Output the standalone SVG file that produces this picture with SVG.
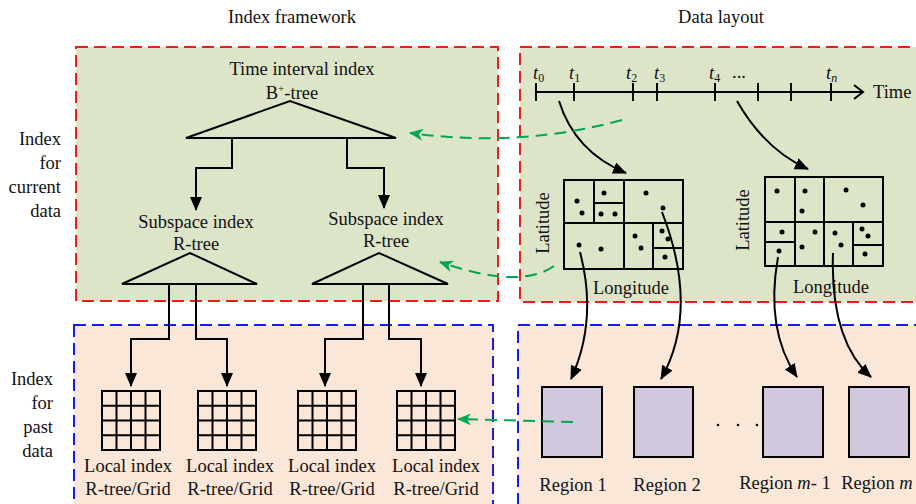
<svg xmlns="http://www.w3.org/2000/svg" width="916" height="504" viewBox="0 0 916 504">
<defs>
<style>
text{font-family:"Liberation Serif","Times New Roman",serif;font-size:18.5px;fill:#111}
.c{text-anchor:middle}
.r{text-anchor:end}
.ln{fill:none;stroke:#000;stroke-width:2}
.tri{fill:none;stroke:#000;stroke-width:2;stroke-linejoin:miter}
.grid{fill:none;stroke:#000;stroke-width:2}
.region{fill:#d1c8dd;stroke:#000;stroke-width:2}
.gd{fill:none;stroke:#00a651;stroke-width:2;stroke-dasharray:12 7}
.dot{fill:#000}
</style>
<marker id="ah" markerUnits="userSpaceOnUse" markerWidth="14" markerHeight="12" refX="13" refY="6" orient="auto">
<path d="M0,0 L14,6 L0,12 z" fill="#000"/>
</marker>
<marker id="gh" markerUnits="userSpaceOnUse" markerWidth="14" markerHeight="12" refX="13" refY="6" orient="auto">
<path d="M0,0 L14,6 L0,12 L4,6 z" fill="#00a651"/>
</marker>
<g id="lgrid">
<rect x="0" y="0" width="58" height="59" class="grid"/>
<path d="M14.5,0V59M29,0V59M43.5,0V59M0,14.75H58M0,29.5H58M0,44.25H58" class="grid"/>
</g>
</defs>
<rect width="916" height="504" fill="#fff"/>

<!-- panels -->
<g id="panels">
<rect x="76" y="47" width="422" height="254" fill="#dde5c9" stroke="#f01c1c" stroke-width="2" stroke-dasharray="12 6"/>
<rect x="520" y="47" width="402" height="255" fill="#dde5c9" stroke="#f01c1c" stroke-width="2" stroke-dasharray="12 6"/>
<rect x="74" y="325" width="419" height="190" fill="#fae7d8" stroke="#1a1aee" stroke-width="2" stroke-dasharray="12 6"/>
<rect x="518" y="325" width="404" height="190" fill="#fae7d8" stroke="#1a1aee" stroke-width="2" stroke-dasharray="12 6"/>
</g>

<g id="headers">
<text x="292" y="23" class="c">Index framework</text>
<text x="721" y="23" class="c">Data layout</text>
<text x="61" y="145" class="r">Index</text>
<text x="61" y="169" class="r">for</text>
<text x="61" y="193" class="r">current</text>
<text x="61" y="217" class="r">data</text>
<text x="53" y="385" class="r">Index</text>
<text x="53" y="409" class="r">for</text>
<text x="53" y="433" class="r">past</text>
<text x="53" y="457" class="r">data</text>
</g>

<g id="time-interval-index">
<text x="302" y="75" class="c">Time interval index</text>
<text x="292" y="99" class="c">B<tspan dy="-7" font-size="11">+</tspan><tspan dy="7">-tree</tspan></text>
<polygon points="186,138 290,101 396,138" class="tri"/>
</g>

<g id="subspace-index-1">
<text x="196" y="228" class="c">Subspace index</text>
<text x="196" y="250" class="c">R-tree</text>
<polygon points="122,284 190,253 257,284" class="tri"/>
</g>
<g id="subspace-index-2">
<text x="386" y="225" class="c">Subspace index</text>
<text x="386" y="247" class="c">R-tree</text>
<polygon points="312,284 379,253 448,284" class="tri"/>
</g>

<g id="local-index-1">
<use href="#lgrid" x="102" y="391"/>
<text x="128" y="472" class="c">Local index</text>
<text x="128" y="495" class="c">R-tree/Grid</text>
</g>
<g id="local-index-2">
<use href="#lgrid" x="198" y="391"/>
<text x="230" y="472" class="c">Local index</text>
<text x="230" y="495" class="c">R-tree/Grid</text>
</g>
<g id="local-index-3">
<use href="#lgrid" x="298" y="391"/>
<text x="332" y="472" class="c">Local index</text>
<text x="332" y="495" class="c">R-tree/Grid</text>
</g>
<g id="local-index-4">
<use href="#lgrid" x="397" y="391"/>
<text x="436" y="472" class="c">Local index</text>
<text x="436" y="495" class="c">R-tree/Grid</text>
</g>

<g id="timeline">
<path d="M536,92 H862" class="ln"/>
<path d="M854,85 L863,92 L854,99" class="ln"/>
<path d="M536,83V101M574,83V101M633,83V101M657,83V101M715,83V101M758,83V101M791,83V101M831,83V101" class="ln"/>
<text x="533" y="79" font-style="italic">t<tspan font-size="12" dy="3" font-style="normal">0</tspan></text>
<text x="569" y="79" font-style="italic">t<tspan font-size="12" dy="3" font-style="normal">1</tspan></text>
<text x="626" y="79" font-style="italic">t<tspan font-size="12" dy="3" font-style="normal">2</tspan></text>
<text x="654" y="79" font-style="italic">t<tspan font-size="12" dy="3" font-style="normal">3</tspan></text>
<text x="709" y="79" font-style="italic">t<tspan font-size="12" dy="3" font-style="normal">4</tspan></text>
<text x="739" y="78" class="c">...</text>
<text x="826" y="79" font-style="italic">t<tspan font-size="12" dy="3">n</tspan></text>
<text x="873" y="98">Time</text>
</g>

<g id="space-1">
<rect x="564" y="180" width="119" height="89" class="grid"/>
<path d="M564,223H683M594,180V223M624,180V269M594,203H624M653,223V269M653,248H683" class="grid"/>
<g class="dot">
<circle cx="577" cy="201" r="2.5"/><circle cx="582" cy="213" r="2.5"/><circle cx="604" cy="193" r="2.5"/>
<circle cx="601" cy="214" r="2.5"/><circle cx="615" cy="214" r="2.5"/><circle cx="646" cy="193" r="2.5"/>
<circle cx="663" cy="208" r="2.5"/><circle cx="579" cy="245" r="2.5"/><circle cx="601" cy="249" r="2.5"/>
<circle cx="635" cy="236" r="2.5"/><circle cx="641" cy="248" r="2.5"/><circle cx="662" cy="231" r="2.5"/>
<circle cx="668" cy="239" r="2.5"/><circle cx="665" cy="257" r="2.5"/>
</g>
<text transform="translate(549,223) rotate(-90)" class="c">Latitude</text>
<text x="631" y="294" class="c">Longitude</text>
</g>

<g id="space-2">
<rect x="765" y="177" width="118" height="89" class="grid"/>
<path d="M765,222H883M795,177V266M824,177V266M853,222V266M765,242H795M853,245H883" class="grid"/>
<g class="dot">
<circle cx="777" cy="191" r="2.5"/><circle cx="805" cy="191" r="2.5"/><circle cx="802" cy="211" r="2.5"/>
<circle cx="846" cy="190" r="2.5"/><circle cx="863" cy="205" r="2.5"/><circle cx="782" cy="232" r="2.5"/>
<circle cx="779" cy="251" r="2.5"/><circle cx="815" cy="232" r="2.5"/><circle cx="802" cy="247" r="2.5"/>
<circle cx="835" cy="233" r="2.5"/><circle cx="841" cy="245" r="2.5"/><circle cx="862" cy="229" r="2.5"/>
<circle cx="868" cy="236" r="2.5"/><circle cx="865" cy="254" r="2.5"/>
</g>
<text transform="translate(749,220) rotate(-90)" class="c">Latitude</text>
<text x="831" y="293" class="c">Longitude</text>
</g>

<g id="region-1">
<rect x="542" y="387" width="60" height="70" class="region"/>
<text x="573" y="491" class="c">Region 1</text>
</g>
<g id="region-2">
<rect x="634" y="387" width="59" height="70" class="region"/>
<text x="667" y="491" class="c">Region 2</text>
</g>
<g id="region-m-1">
<rect x="763" y="387" width="60" height="70" class="region"/>
<text x="785" y="489" class="c">Region <tspan font-style="italic">m</tspan>- 1</text>
</g>
<g id="region-m">
<rect x="849" y="387" width="60" height="70" class="region"/>
<text x="877" y="489" class="c">Region <tspan font-style="italic">m</tspan></text>
</g>
<g id="ellipsis">
<circle cx="718" cy="425" r="1.3" fill="#000"/><circle cx="738" cy="425" r="1.3" fill="#000"/><circle cx="757" cy="425" r="1.3" fill="#000"/>
</g>

<g id="connectors">
<path d="M232,138 V168 H196 V210" class="ln" marker-end="url(#ah)"/>
<path d="M347,138 V168 H384 V208" class="ln" marker-end="url(#ah)"/>
<path d="M169,284 V339 H131 V386" class="ln" marker-end="url(#ah)"/>
<path d="M196,284 V339 H227 V386" class="ln" marker-end="url(#ah)"/>
<path d="M363,284 V339 H325 V386" class="ln" marker-end="url(#ah)"/>
<path d="M389,284 V339 H421 V386" class="ln" marker-end="url(#ah)"/>
<path d="M559,101 Q575,152 626,173" class="ln" marker-end="url(#ah)"/>
<path d="M737,101 Q765,150 808,169" class="ln" marker-end="url(#ah)"/>
<path d="M580,252 Q598,320 571,379" class="ln" marker-end="url(#ah)"/>
<path d="M662,212 Q700,310 661,379" class="ln" marker-end="url(#ah)"/>
<path d="M778,257 Q765,330 797,377" class="ln" marker-end="url(#ah)"/>
<path d="M833,253 Q830,340 871,377" class="ln" marker-end="url(#ah)"/>
<path d="M622,120 Q520,148 410,133" class="gd" marker-end="url(#gh)"/>
<path d="M554,266 Q520,290 440,262" class="gd" marker-end="url(#gh)"/>
<path d="M573,422 L458,419" class="gd" marker-end="url(#gh)"/>
</g>
</svg>
